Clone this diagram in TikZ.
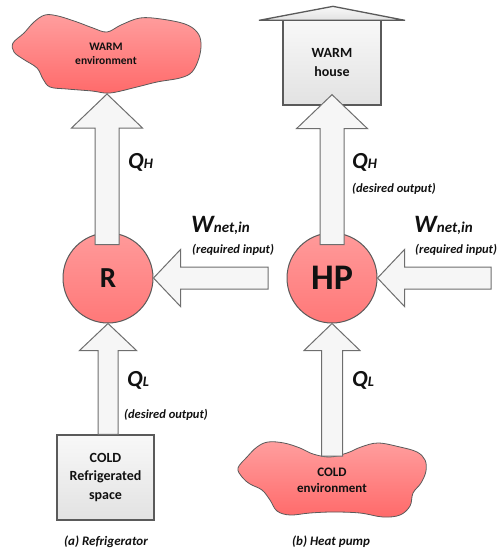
\documentclass[tikz,border=0pt]{standalone}
\usepackage{fontspec}
\setmainfont{Carlito}
\usetikzlibrary{calc}
\definecolor{redtop}{HTML}{FF9E9E}
\definecolor{redbot}{HTML}{FF6A6A}
\definecolor{circtop}{HTML}{FF9A9A}
\definecolor{circbot}{HTML}{FF7878}
\definecolor{edgegray}{HTML}{5A5A5A}
\definecolor{arrowfill}{HTML}{F6F6F6}
\definecolor{arrowline}{HTML}{6E6E6E}
\definecolor{boxtop}{HTML}{F8F8F8}
\definecolor{boxbot}{HTML}{E2E2E2}
\definecolor{ink}{HTML}{111111}

\newcommand\vblockarrow[5]{% base, tip, half shaft, half head, head length
  \draw[blockarrow] let \p1=#1, \p2=#2 in
   (\x2-#3,\y1) -- (\x2-#3,\y2-#5) -- (\x2-#4,\y2-#5) -- (\x2,\y2)
   -- (\x2+#4,\y2-#5) -- (\x2+#3,\y2-#5) -- (\x2+#3,\y1) -- cycle;}
\newcommand\hblockarrow[5]{% base, tip (pointing left)
  \draw[blockarrow] let \p1=#1, \p2=#2 in
   (\x1,\y2+#3) -- (\x2+#5,\y2+#3) -- (\x2+#5,\y2+#4) -- (\x2,\y2)
   -- (\x2+#5,\y2-#4) -- (\x2+#5,\y2-#3) -- (\x1,\y2-#3) -- cycle;}
\newcommand\qsym[2]{{\fontsize{23}{23}\selectfont #1}{\fontsize{14.5}{14.5}\selectfont #2}}
\newcommand\wsym{{\fontsize{25}{25}\selectfont W}{\fontsize{15}{15}\selectfont net,in}}

\begin{document}
\begin{tikzpicture}[x=1pt,y=-1pt,
  blockarrow/.style={draw=arrowline, line width=1pt, fill=arrowfill, line join=miter},
  blob/.style={draw=edgegray, line width=0.8pt, top color=redtop, bottom color=redbot},
  circ/.style={circle, draw=edgegray, line width=1pt, top color=circtop, bottom color=circbot,
    minimum size=90pt, inner sep=0pt, text=ink, font=\bfseries},
  graybox/.style={draw=edgegray, line width=1.3pt, top color=boxtop, bottom color=boxbot,
    align=center, text=ink, inner sep=0pt},
  inner/.style={align=center, text=ink, inner sep=0pt, font=\bfseries},
  lbl/.style={anchor=base west, inner sep=0pt, text=ink, font=\bfseries\itshape},
  note/.style={anchor=base west, inner sep=0pt, text=ink, font=\fontsize{12.5}{12.5}\selectfont\bfseries\itshape},
  caption/.style={inner sep=0pt, text=ink, font=\fontsize{13}{13}\selectfont\bfseries\itshape}]
\useasboundingbox (0,0) rectangle (503,551);

% ---------- (a) Refrigerator ----------
\draw[blob] plot[smooth cycle, tension=0.6] coordinates {
  (13,43) (24,33) (34,22) (45,15) (58,16) (77,22) (93,28) (107,32) (121,25) (140,18)
  (161,19) (185,24) (197,32) (201,43) (199,58) (192,72) (180,78) (157,82) (137,87)
  (110,93) (92,91) (67,89) (50,87) (43,79) (37,68) (23,59) (14,52)};
\node[inner, font=\fontsize{11.5}{14}\selectfont\bfseries] (warmenv) at (106,54) {WARM\\environment};
\coordinate (warmtip) at (107,94);

\node[circ, font=\fontsize{29}{29}\selectfont\bfseries] (R) at (108,278) {R};
\node[graybox, minimum width=97pt, minimum height=85pt,
  font=\fontsize{14}{18.5}\selectfont\bfseries] (cold) at (105.5,477.5) {COLD\\Refrigerated\\space};
\coordinate (wbaseA) at (268,276);

\vblockarrow{($(R.north)+(0,12)$)}{(warmtip)}{12pt}{35.5pt}{34pt}
\hblockarrow{(wbaseA)}{(R.east)}{11pt}{28.5pt}{27pt}
\vblockarrow{(cold.north)}{(R.south)}{10pt}{28.5pt}{27pt}

\node[lbl] (qhA) at (128,168) {\qsym{Q}{H}};
\node[lbl] (wA) at (191,232) {\wsym};
\node[note] (reqA) at (192,253) {(required input)};
\node[lbl] (qlA) at (127,386) {\qsym{Q}{L}};
\node[note] (descA) at (124,418) {(desired output)};
\node[caption] (capA) at (106,542) {(a) Refrigerator};

% ---------- (b) Heat pump ----------
\node[graybox, minimum width=98pt, minimum height=85pt,
  font=\fontsize{14}{19}\selectfont\bfseries] (house) at (332,62.5) {WARM\\house};
\draw[graybox] ($(house.north)+(-73,1)$) -- ($(house.north)+(1,-13)$) -- ($(house.north)+(73,1)$) -- cycle;

\node[circ, font=\fontsize{36}{36}\selectfont\bfseries] (HP) at (332,278) {HP};

\draw[blob] plot[smooth cycle, tension=0.6] coordinates {
  (238,468) (247,457) (257,447) (268,442) (284,443) (300,448) (313,454) (330,457)
  (347,453) (361,447) (378,443) (400,447) (417,452) (425,460) (426,471) (421,483)
  (413,493) (410,506) (400,515) (383,517) (360,513) (333,512) (310,513) (290,515)
  (277,511) (270,500) (262,490) (250,484) (242,477)};
\node[inner, font=\fontsize{13}{16}\selectfont\bfseries] (coldenv) at (332,480) {COLD\\environment};
\coordinate (coldtop) at (330,456);
\coordinate (wbaseB) at (491,276);

\vblockarrow{($(HP.north)+(0,12)$)}{($(house.south)+(0,-11)$)}{12pt}{35.5pt}{34pt}
\hblockarrow{(wbaseB)}{(HP.east)}{11pt}{28.5pt}{27pt}
\vblockarrow{(coldtop)}{(HP.south)}{10.5pt}{28pt}{27pt}

\node[lbl] (qhB) at (352,168) {\qsym{Q}{H}};
\node[note] (descB) at (352,192) {(desired output)};
\node[lbl] (wB) at (414,232) {\wsym};
\node[note] (reqB) at (415,253) {(required input)};
\node[lbl] (qlB) at (352,386) {\qsym{Q}{L}};
\node[caption] (capB) at (331,542) {(b) Heat pump};
\end{tikzpicture}
\end{document}
